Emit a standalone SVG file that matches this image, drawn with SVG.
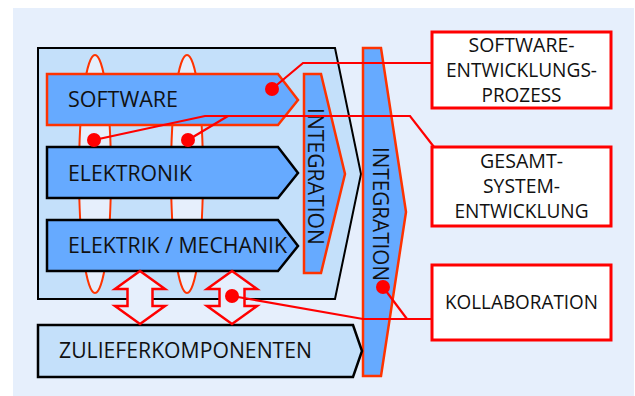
<svg xmlns="http://www.w3.org/2000/svg" width="635" height="396" viewBox="0 0 635 396">
<style>
.lbl{font-family:"Open Sans","Noto Sans","DejaVu Sans",sans-serif;font-size:22px;fill:#111}
.box-t{font-family:"Open Sans","Noto Sans","DejaVu Sans",sans-serif;font-size:20px;fill:#111;text-anchor:middle}
.blue-red{fill:#66AAFF;stroke:#FF3300;stroke-width:2.5;stroke-linejoin:miter}
.blue-blk{fill:#66AAFF;stroke:#000;stroke-width:2.5}
.pale{fill:#E6EFFC;stroke:#FF3300;stroke-width:2}
.darr{fill:#E6EFFC;stroke:#FF0000;stroke-width:2.5}
.rbox{fill:#FFFFFF;stroke:#FF0000;stroke-width:3}
.conn{fill:none;stroke:#FF0000;stroke-width:2.2}
.dot{fill:#FF0000}
</style>
<rect x="13" y="8" width="621" height="388" fill="#E6EFFC"/>
<g id="system-box">
<polygon points="38,48 335,48 361,174 335,299 38,299" fill="#C4E0FA" stroke="#000" stroke-width="2"/>
</g>
<g id="collab-columns">
<ellipse cx="95" cy="174" rx="16" ry="119" class="pale"/>
<ellipse cx="187" cy="174" rx="16" ry="119" class="pale"/>
</g>
<g id="software">
<polygon points="47,74 278,74 298,100 278,125 47,125" class="blue-red"/>
<text x="68" y="107" class="lbl" textLength="110" lengthAdjust="spacingAndGlyphs">SOFTWARE</text>
</g>
<g id="elektronik">
<polygon points="47,147 278,147 298,173 278,198 47,198" class="blue-blk"/>
<text x="68" y="181" class="lbl" textLength="124" lengthAdjust="spacingAndGlyphs">ELEKTRONIK</text>
</g>
<g id="elektrik-mechanik">
<polygon points="47,220 278,220 298,246 278,271 47,271" class="blue-blk"/>
<text x="68" y="253" class="lbl" textLength="219" lengthAdjust="spacingAndGlyphs">ELEKTRIK / MECHANIK</text>
</g>
<g id="integration-inner">
<polygon points="304,74 321,74 345,174 321,273 304,273" class="blue-red"/>
<text transform="translate(308,176.5) rotate(90)" class="lbl" text-anchor="middle" textLength="137" lengthAdjust="spacingAndGlyphs">INTEGRATION</text>
</g>
<g id="integration-outer">
<polygon points="363,48 381,48 406,212 381,376 363,376" class="blue-red"/>
<text transform="translate(373,214) rotate(90)" class="lbl" text-anchor="middle" textLength="134" lengthAdjust="spacingAndGlyphs">INTEGRATION</text>
</g>
<g id="zulieferkomponenten">
<polygon points="38,325 353,325 362,351 353,377 38,377" fill="#C4E0FA" stroke="#000" stroke-width="2.5"/>
<text x="59" y="358" class="lbl" textLength="253" lengthAdjust="spacingAndGlyphs">ZULIEFERKOMPONENTEN</text>
</g>
<defs>
<polygon id="dbl" points="0,0 25,18 12.5,18 12.5,35 25,35 0,53 -25,35 -12.5,35 -12.5,18 -25,18" class="darr"/>
</defs>
<g id="exchange-1"><use href="#dbl" x="140" y="271"/></g>
<g id="exchange-2"><use href="#dbl" x="232" y="271"/></g>
<g id="box-swep">
<rect x="432" y="32" width="179" height="76" class="rbox"/>
<text x="521.5" y="52" class="box-t" textLength="106" lengthAdjust="spacingAndGlyphs">SOFTWARE-</text>
<text x="521.5" y="77" class="box-t" textLength="151" lengthAdjust="spacingAndGlyphs">ENTWICKLUNGS-</text>
<text x="521.5" y="102" class="box-t" textLength="80" lengthAdjust="spacingAndGlyphs">PROZESS</text>
</g>
<g id="box-gesamt">
<rect x="432" y="147" width="179" height="79" class="rbox"/>
<text x="521.5" y="168" class="box-t" textLength="83" lengthAdjust="spacingAndGlyphs">GESAMT-</text>
<text x="521.5" y="193" class="box-t" textLength="77" lengthAdjust="spacingAndGlyphs">SYSTEM-</text>
<text x="521.5" y="218" class="box-t" textLength="134" lengthAdjust="spacingAndGlyphs">ENTWICKLUNG</text>
</g>
<g id="box-kollab">
<rect x="432" y="265" width="179" height="75" class="rbox"/>
<text x="521.5" y="309" class="box-t" textLength="153" lengthAdjust="spacingAndGlyphs">KOLLABORATION</text>
</g>
<g id="connectors">
<polyline points="272,89 303,63 432,63" class="conn"/>
<polyline points="94,140 205,116 410,116 434,147" class="conn"/>
<line x1="188" y1="140" x2="228" y2="116" class="conn"/>
<polyline points="232,296 363,319 432,319" class="conn"/>
<line x1="383" y1="287" x2="407" y2="319" class="conn"/>
<circle cx="272" cy="89" r="7" class="dot"/>
<circle cx="94" cy="140" r="7" class="dot"/>
<circle cx="188" cy="140" r="7" class="dot"/>
<circle cx="232" cy="296" r="7" class="dot"/>
<circle cx="383" cy="287" r="7" class="dot"/>
</g>
</svg>
